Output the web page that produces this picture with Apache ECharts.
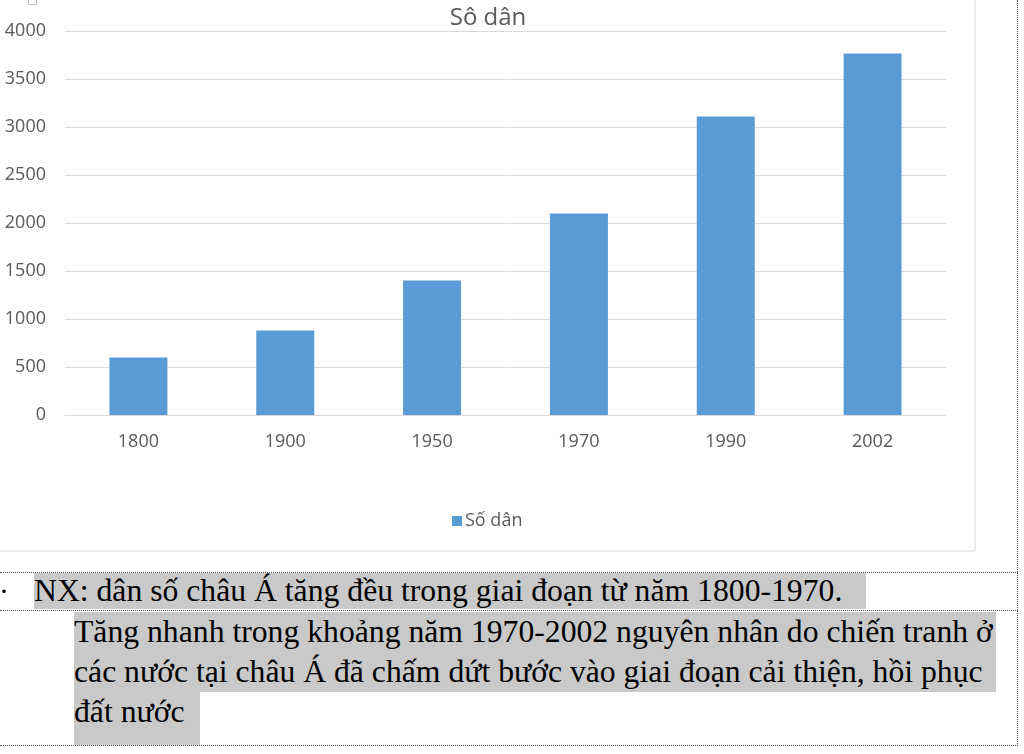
<!DOCTYPE html>
<html>
<head>
<meta charset="utf-8">
<script src="https://cdn.jsdelivr.net/npm/echarts@6/dist/echarts.min.js"></script>
<style>
html,body{margin:0;padding:0;background:#fff;width:1024px;height:754px;overflow:hidden;}
#chart{position:absolute;left:0;top:0;width:1024px;height:754px;}
.hl{position:absolute;background:#c9c9c9;font-family:"Liberation Serif","Times New Roman",serif;font-size:31.7px;color:#000;white-space:nowrap;line-height:40px;}
.dh{position:absolute;left:0;height:0;border-top:1px dotted #555;}
.dv{position:absolute;width:0;border-left:1px dotted #555;}
</style>
</head>
<body>
<div id="chart"></div>
<div class="dh" style="top:572px;width:1018px"></div>
<div class="dh" style="top:610px;width:1018px"></div>
<div class="dh" style="top:745px;width:1018px"></div>
<div class="dv" style="left:1017px;top:0;height:746px"></div>
<div style="position:absolute;left:-1px;top:572px;font-family:'Liberation Serif',serif;font-size:30px;line-height:38px;">·</div>
<div class="hl" style="left:34px;top:573px;width:832px;height:36px;line-height:36px;">NX: dân số châu Á tăng đều trong giai đoạn từ năm 1800-1970.</div>
<div class="hl" style="left:74px;top:612px;width:922px;height:40px;">Tăng nhanh trong khoảng năm 1970-2002 nguyên nhân do chiến tranh ở</div>
<div class="hl" style="left:74px;top:652px;width:922px;height:40px;">các nước tại châu Á đã chấm dứt bước vào giai đoạn cải thiện, hồi phục</div>
<div class="hl" style="left:74px;top:692px;width:126px;height:53px;line-height:40px;">đất nước</div>
<script>
var categories = ['1800', '1900', '1950', '1970', '1990', '2002'];
var population = [600, 880, 1402, 2100, 3110, 3766];
var seriesName = 'Số dân';
var chartTitle = 'Sô dân';

var chart = echarts.init(document.getElementById('chart'), null, {renderer: 'canvas'});
var gray = '#595959';
var font = '"Open Sans", "Noto Sans", sans-serif';
chart.setOption({
  animation: false,
  backgroundColor: '#fff',
  textStyle: {fontFamily: font},
  graphic: [{
    type: 'rect',
    shape: {x: -10, y: -10, width: 985, height: 561},
    style: {fill: '#fff', stroke: '#d9d9d9', lineWidth: 1},
    z: -10
  }, {
    type: 'rect',
    shape: {x: 28.5, y: -3.5, width: 8, height: 8},
    style: {fill: '#fff', stroke: '#bfbfbf', lineWidth: 1},
    z: 10
  }],
  title: {
    text: chartTitle,
    left: 483, top: 1,
    textAlign: 'center',
    textStyle: {color: gray, fontSize: 24, fontWeight: 'normal', fontFamily: font}
  },
  legend: {
    data: [seriesName],
    left: 447, top: 507,
    icon: 'rect', itemWidth: 10, itemHeight: 10, itemGap: 5,
    textStyle: {color: gray, fontSize: 18, fontFamily: font, padding: [0, 0, 0, -2]}
  },
  grid: {left: 65, right: 78, top: 31, bottom: 339, containLabel: false},
  xAxis: {
    type: 'category',
    data: categories,
    axisLine: {lineStyle: {color: '#d9d9d9'}},
    axisTick: {show: false},
    axisLabel: {color: gray, fontSize: 18, margin: 18, fontFamily: font}
  },
  yAxis: {
    type: 'value',
    min: 0, max: 4000, interval: 500,
    axisLine: {show: false},
    axisTick: {show: false},
    splitLine: {lineStyle: {color: '#d9d9d9'}},
    axisLabel: {color: gray, fontSize: 18, margin: 19, fontFamily: font, formatter: function (v) { return String(v); }}
  },
  series: [{
    name: seriesName,
    type: 'bar',
    data: population,
    barWidth: 58,
    itemStyle: {color: '#5b9bd5'}
  }]
});
</script>
</body>
</html>
